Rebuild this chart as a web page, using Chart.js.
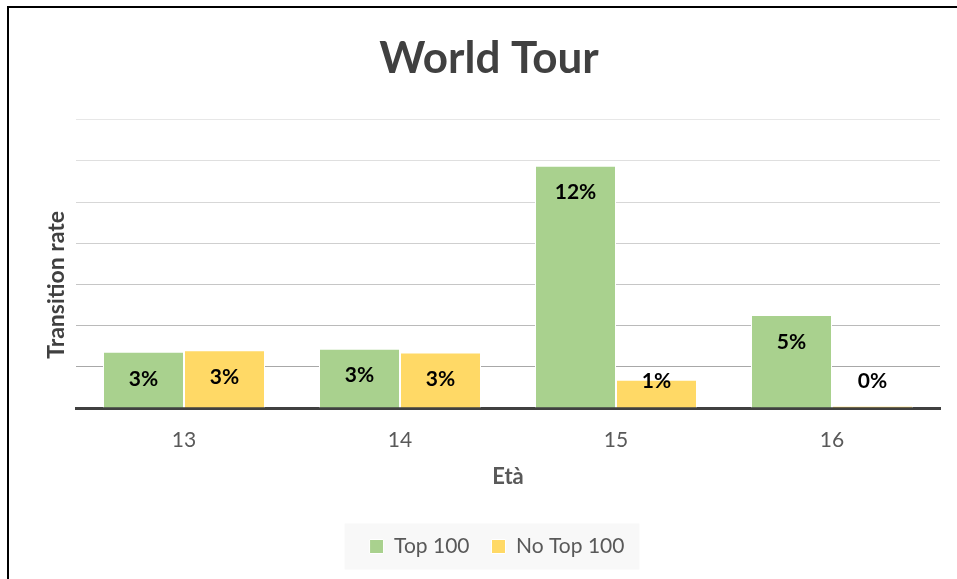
<!DOCTYPE html>
<html>
<head>
<meta charset="utf-8">
<title>World Tour</title>
<script src="https://cdn.jsdelivr.net/npm/chart.js@4.4.1/dist/chart.umd.min.js"></script>
<style>
  html, body { margin: 0; padding: 0; background: #fff; }
  #wrap { position: relative; width: 957px; height: 579px; }
  #frame { position: absolute; left: 7px; top: 6px; right: 0; bottom: 0;
           border-top: 2px solid #000; border-left: 2px solid #000; pointer-events: none; }
</style>
</head>
<body>
<div id="wrap">
  <canvas id="chart"></canvas>
  <div id="frame"></div>
</div>
<script>
// age groups and transition rates (%)
const ages = ['13', '14', '15', '16']
const top100 = [2.73, 2.88, 11.77, 4.52]
const noTop100 = [2.8, 2.69, 1.37, 0.1]
const seriesNames = ['Top 100', 'No Top 100']
const yTitle = 'Transition rate'

const gridShades = ['#404040', '#a8a8a8', '#bababa', '#c6c6c6', '#cfcfcf', '#d7d7d7', '#dfdfdf', '#e7e7e7']

// percent labels inside the top of each bar
const barLabels = {
  id: 'barLabels',
  afterDatasetsDraw(chart) {
    const ctx = chart.ctx
    ctx.save()
    ctx.font = 'bold 21px Lato'
    ctx.fillStyle = '#000'
    ctx.textAlign = 'center'
    ctx.textBaseline = 'middle'
    chart.data.datasets.forEach((ds, i) => {
      chart.getDatasetMeta(i).data.forEach((bar, j) => {
        const y = Math.min(bar.y + 27, bar.base - 26)
        ctx.fillText(Math.round(ds.data[j]) + '%', bar.x, y)
      })
    })
    ctx.restore()
  }
}

// y title sits a little below the middle of the axis
const sideTitle = {
  id: 'sideTitle',
  afterDraw(chart) {
    const area = chart.chartArea
    const ctx = chart.ctx
    ctx.save()
    ctx.translate(57, (area.top + area.bottom) / 2 + 21)
    ctx.rotate(-Math.PI / 2)
    ctx.font = 'bold 23px Lato'
    ctx.fillStyle = '#404040'
    ctx.textAlign = 'center'
    ctx.textBaseline = 'middle'
    ctx.fillText(yTitle, 0, 0)
    ctx.restore()
  }
}

// nudge title and legend right a bit, then paint a light panel behind the legend
const legendPanel = {
  id: 'legendPanel',
  afterLayout(chart) {
    const tb = chart.titleBlock
    if (tb) { tb.left += 19; tb.right += 19 }
    const lg = chart.legend
    if (!lg) return
    lg.left += 27
    lg.right += 27
    if (lg.legendHitBoxes) lg.legendHitBoxes.forEach((b) => { b.left += 27 })
  },
  beforeDraw(chart) {
    const boxes = chart.legend && chart.legend.legendHitBoxes
    if (!boxes || !boxes.length) return
    const first = boxes[0]
    const last = boxes[boxes.length - 1]
    const ctx = chart.ctx
    ctx.save()
    ctx.fillStyle = '#f8f8f8'
    const x0 = first.left - 25
    const x1 = last.left + last.width + 15
    ctx.fillRect(x0, first.top + first.height / 2 - 23, x1 - x0, 46)
    ctx.restore()
  }
}

new Chart(document.getElementById('chart'), {
  type: 'bar',
  data: {
    labels: ages,
    datasets: [
      {
        label: seriesNames[0],
        data: top100,
        backgroundColor: '#a9d18e',
        borderColor: '#ffffff',
        borderWidth: 1,
      },
      {
        label: seriesNames[1],
        data: noTop100,
        backgroundColor: '#ffd966',
        borderColor: '#ffffff',
        borderWidth: 1,
      },
    ],
  },
  options: {
    responsive: true,
    maintainAspectRatio: false,
    animation: false,
    layout: { padding: { left: 0, right: 17, top: 0, bottom: 12 } },
    datasets: { bar: { categoryPercentage: 0.75, barPercentage: 1 } },
    plugins: {
      tooltip: { enabled: false },
      title: {
        display: true,
        text: 'World Tour',
        color: '#404040',
        font: { family: 'Lato', size: 44, weight: 'bold' },
        padding: { top: 32, bottom: 35 },
      },
      legend: {
        position: 'bottom',
        labels: {
          color: '#595959',
          font: { family: 'Lato', size: 21 },
          boxWidth: 14,
          boxHeight: 14,
          padding: 22,
        },
      },
    },
    scales: {
      x: {
        grid: { display: false },
        border: { display: true, color: '#404040', width: 3 },
        ticks: { color: '#595959', font: { family: 'Lato', size: 21 }, padding: 12 },
        title: {
          display: true,
          text: 'Età',
          color: '#595959',
          font: { family: 'Lato', size: 22, weight: 'bold' },
          padding: { top: 0, bottom: 24 },
        },
        afterFit(scale) { scale.height = 106 },
      },
      y: {
        min: 0,
        max: 14,
        ticks: { display: false, stepSize: 2 },
        border: { display: false },
        grid: {
          color: (c) => gridShades[c.index] || '#d9d9d9',
          lineWidth: 1,
          drawTicks: false,
        },
        afterFit(scale) { scale.width = 76 },
      },
    },
  },
  plugins: [legendPanel, barLabels, sideTitle],
})
</script>
</body>
</html>
